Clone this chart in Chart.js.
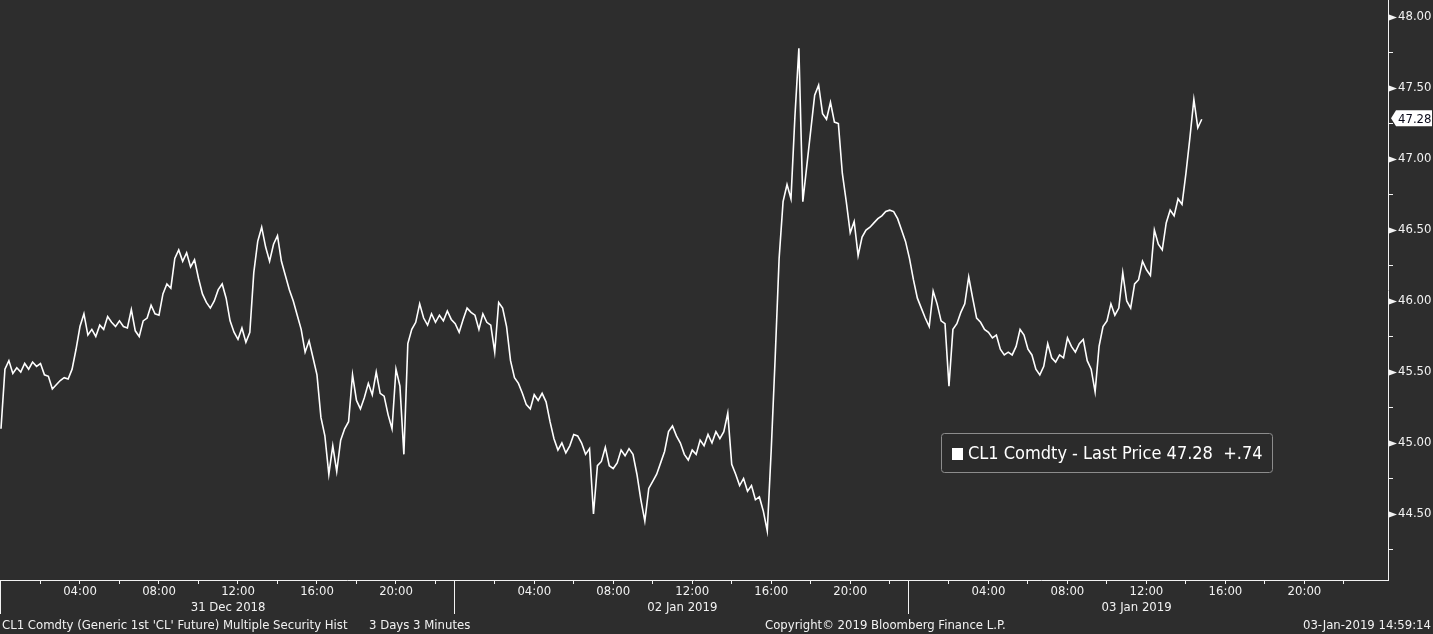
<!DOCTYPE html>
<html lang="en">
<head>
<meta charset="UTF-8" />
<title>CL1 Comdty - Last Price</title>
<script src="https://cdn.jsdelivr.net/npm/chart.js"></script>
<style>
  html, body { margin: 0; padding: 0; background: #2d2d2d; }
  canvas { display: block; }
</style>
</head>
<body>
<canvas id="priceChart" width="1433" height="634"></canvas>
<script>
// prices read every 12 min of trading time (0.2 h); each session shows 23 trading hours
const stepHours = 0.2;
const dayLabels = ["31 Dec 2018", "02 Jan 2019", "03 Jan 2019"];
const dayStart = [0, 23, 46];

const dec31 = [
  45.10, 45.52, 45.58, 45.49, 45.53, 45.50, 45.56, 45.52, 45.57, 45.54,
  45.56, 45.48, 45.47, 45.38, 45.41, 45.44, 45.46, 45.45, 45.52, 45.66,
  45.82, 45.91, 45.76, 45.80, 45.75, 45.83, 45.80, 45.89, 45.85, 45.82,
  45.86, 45.82, 45.81, 45.94, 45.79, 45.75, 45.86, 45.88, 45.97, 45.91,
  45.90, 46.05, 46.12, 46.09, 46.30, 46.36, 46.28, 46.34, 46.24, 46.29,
  46.16, 46.05, 45.99, 45.95, 46.00, 46.08, 46.12, 46.02, 45.86, 45.78,
  45.73, 45.81, 45.71, 45.78, 46.20, 46.42, 46.52, 46.38, 46.28, 46.40,
  46.46, 46.28, 46.18, 46.08, 46.00, 45.90, 45.80, 45.64, 45.72, 45.60,
  45.48, 45.18, 45.05, 44.78, 44.98, 44.80, 45.02, 45.10, 45.15, 45.48,
  45.30, 45.24, 45.32, 45.42, 45.34, 45.50, 45.35, 45.33, 45.20, 45.10,
  45.52, 45.40, 44.92, 45.70, 45.80, 45.85, 45.98, 45.88, 45.83, 45.91,
  45.85, 45.90, 45.86, 45.93, 45.87
];
const jan02 = [
  45.84, 45.78, 45.87, 45.95, 45.92, 45.90, 45.80, 45.91, 45.85, 45.83,
  45.64, 45.99, 45.95, 45.82, 45.58, 45.46, 45.42, 45.35, 45.27, 45.24,
  45.34, 45.30, 45.35, 45.29, 45.15, 45.03, 44.95, 45.00, 44.93, 44.98,
  45.06, 45.05, 45.00, 44.92, 44.96, 44.50, 44.84, 44.87, 44.97, 44.84,
  44.82, 44.86, 44.95, 44.91, 44.96, 44.92, 44.78, 44.60, 44.45, 44.68,
  44.73, 44.78, 44.86, 44.94, 45.08, 45.12, 45.05, 45.00, 44.92, 44.88,
  44.95, 44.92, 45.02, 44.98, 45.06, 45.00, 45.08, 45.03, 45.08, 45.21,
  44.85, 44.78, 44.70, 44.75, 44.66, 44.70, 44.60, 44.62, 44.52, 44.38,
  44.95, 45.60, 46.30, 46.70, 46.82, 46.72, 47.30, 47.78, 46.70, 46.95,
  47.20, 47.45, 47.52, 47.32, 47.28, 47.40, 47.26, 47.25, 46.90, 46.70,
  46.48, 46.56, 46.32, 46.45, 46.50, 46.52, 46.55, 46.58, 46.60, 46.63,
  46.64, 46.63, 46.58, 46.50, 46.42
];
const jan03 = [
  46.30, 46.15, 46.02, 45.95, 45.88, 45.82, 46.07, 45.98, 45.86, 45.84,
  45.40, 45.80, 45.84, 45.92, 45.98, 46.17, 46.02, 45.88, 45.85, 45.80,
  45.78, 45.74, 45.76, 45.66, 45.62, 45.64, 45.62, 45.68, 45.80, 45.76,
  45.66, 45.62, 45.52, 45.48, 45.54, 45.70, 45.60, 45.57, 45.62, 45.60,
  45.74, 45.68, 45.64, 45.70, 45.73, 45.58, 45.52, 45.36, 45.68, 45.82,
  45.86, 45.98, 45.90, 45.95, 46.20, 46.00, 45.95, 46.12, 46.15, 46.28,
  46.22, 46.18, 46.50, 46.40, 46.36, 46.55, 46.64, 46.60, 46.72, 46.68,
  46.90, 47.15, 47.42, 47.22, 47.28
];

const priceTicks = [44.25, 44.5, 44.75, 45, 45.25, 45.5, 45.75, 46,
                    46.25, 46.5, 46.75, 47, 47.25, 47.5, 47.75, 48];
const hourTicks = [2, 4, 6, 8, 10, 12, 14, 16, 18, 20, 22];
const hourLabels = ["", "04:00", "", "08:00", "", "12:00", "", "16:00", "", "20:00", ""];
const lastPrice = 47.28;
const netChange = "+.74";
const legendText = "CL1 Comdty - Last Price " + lastPrice.toFixed(2) + "  " + netChange;
const footerLeft = "CL1 Comdty (Generic 1st 'CL' Future) Multiple Security Hist";
const footerRange = "3 Days 3 Minutes";
const footerCopy = "Copyright\u00a9 2019 Bloomberg Finance L.P.";
const footerStamp = "03-Jan-2019 14:59:14";

const FONT = "'DejaVu Sans Condensed', 'DejaVu Sans', sans-serif";
const BG = "#2d2d2d";
const FG = "#f2f2f2";

const points = [];
[dec31, jan02, jan03].forEach((arr, d) => {
  arr.forEach((p, i) => points.push({ x: dayStart[d] + i * stepHours, y: p }));
});

// x ticks: every 2 h inside each session, plus a hidden tick at mid-session for the date
const xTicks = [];
const xLabels = [];
dayStart.forEach((d, k) => {
  hourTicks.forEach((h, j) => {
    if (h === 12) {
      xTicks.push({ value: d + 11.5, dateTick: true });
      xLabels.push(["", dayLabels[k]]);
    }
    xTicks.push({ value: d + h });
    xLabels.push(hourLabels[j]);
  });
});

const extras = {
  id: "extras",
  beforeDraw(chart) {
    const c = chart.ctx;
    c.save();
    c.fillStyle = BG;
    c.fillRect(0, 0, chart.width, chart.height);
    c.restore();
  },
  afterDraw(chart) {
    const c = chart.ctx;
    const xs = chart.scales.x;
    const ys = chart.scales.y;
    const area = chart.chartArea;
    c.save();

    // session separators
    c.strokeStyle = FG;
    c.lineWidth = 1;
    dayStart.forEach((d) => {
      const px = Math.max(Math.round(xs.getPixelForValue(d)) - 0.5, 0.5);
      c.beginPath();
      c.moveTo(px, area.bottom);
      c.lineTo(px, area.bottom + 34);
      c.stroke();
    });

    // major price ticks as small arrow heads
    c.fillStyle = FG;
    priceTicks.forEach((v) => {
      if (Math.round(v * 100) % 50 !== 0) return;
      const py = Math.round(ys.getPixelForValue(v)) + 0.5;
      c.beginPath();
      c.moveTo(area.right + 1, py - 3);
      c.lineTo(area.right + 9, py);
      c.lineTo(area.right + 1, py + 3);
      c.closePath();
      c.fill();
    });

    // last price tag
    const ty = ys.getPixelForValue(lastPrice) - 1;
    c.fillStyle = "#ffffff";
    c.beginPath();
    c.moveTo(area.right + 3, ty);
    c.lineTo(area.right + 8, ty - 8);
    c.lineTo(chart.width - 1, ty - 8);
    c.lineTo(chart.width - 1, ty + 8);
    c.lineTo(area.right + 8, ty + 8);
    c.closePath();
    c.fill();
    c.fillStyle = "#0a0a1a";
    c.font = "13px " + FONT;
    c.textBaseline = "middle";
    c.textAlign = "left";
    c.fillText(lastPrice.toFixed(2), area.right + 10, ty + 1);

    // legend box
    const bx = 941.5, by = 433.5, bw = 331, bh = 39, r = 3;
    c.beginPath();
    c.moveTo(bx + r, by);
    c.arcTo(bx + bw, by, bx + bw, by + bh, r);
    c.arcTo(bx + bw, by + bh, bx, by + bh, r);
    c.arcTo(bx, by + bh, bx, by, r);
    c.arcTo(bx, by, bx + bw, by, r);
    c.closePath();
    c.fillStyle = "#2b2b2b";
    c.fill();
    c.strokeStyle = "#8c8c8c";
    c.stroke();
    c.fillStyle = "#ffffff";
    c.fillRect(952, 448, 11, 12);
    c.font = "18px " + FONT;
    c.fillText(legendText, 968, 454);

    // footer
    c.font = "13px " + FONT;
    c.fillStyle = FG;
    c.fillText(footerLeft, 2, 626);
    c.fillText(footerRange, 369, 626);
    c.fillText(footerCopy, 765, 626);
    c.textAlign = "right";
    c.fillText(footerStamp, 1431, 626);
    c.restore();
  }
};

new Chart(document.getElementById("priceChart"), {
  type: "line",
  data: {
    datasets: [{
      data: points,
      borderColor: "#ffffff",
      borderWidth: 1.6,
      pointRadius: 0,
      tension: 0,
      fill: false
    }]
  },
  options: {
    responsive: false,
    animation: false,
    events: [],
    layout: { padding: 0 },
    plugins: { legend: { display: false }, tooltip: { enabled: false } },
    scales: {
      x: {
        type: "linear",
        position: "bottom",
        min: -0.05,
        max: 70.23,
        afterBuildTicks: (scale) => { scale.ticks = xTicks.map((t) => ({ ...t })); },
        afterFit: (scale) => {
          scale.height = 54;
          scale.paddingLeft = 0;
          scale.paddingRight = 0;
        },
        border: { display: true, color: FG, width: 1 },
        grid: {
          drawOnChartArea: false,
          drawTicks: true,
          tickLength: 4,
          tickColor: (ctx) => (ctx.tick && ctx.tick.dateTick ? "rgba(0,0,0,0)" : FG)
        },
        ticks: {
          autoSkip: false,
          maxRotation: 0,
          minRotation: 0,
          padding: 0,
          color: FG,
          font: { family: FONT, size: 13, lineHeight: 16 / 13 },
          callback: (value, index) => xLabels[index]
        }
      },
      y: {
        type: "linear",
        position: "right",
        min: 44.035,
        max: 48.12,
        afterBuildTicks: (scale) => { scale.ticks = priceTicks.map((v) => ({ value: v })); },
        afterFit: (scale) => {
          scale.width = 45;
          scale.paddingTop = 0;
          scale.paddingBottom = 0;
        },
        border: { display: true, color: FG, width: 1 },
        grid: {
          drawOnChartArea: false,
          drawTicks: true,
          tickLength: 5,
          tickColor: (ctx) => (ctx.tick && Math.round(ctx.tick.value * 100) % 50 === 0 ? "rgba(0,0,0,0)" : FG)
        },
        ticks: {
          padding: 5,
          color: FG,
          font: { family: FONT, size: 13 },
          callback: (value) => (Math.round(value * 100) % 50 === 0 ? value.toFixed(2) : "")
        }
      }
    }
  },
  plugins: [extras]
});
</script>
</body>
</html>
